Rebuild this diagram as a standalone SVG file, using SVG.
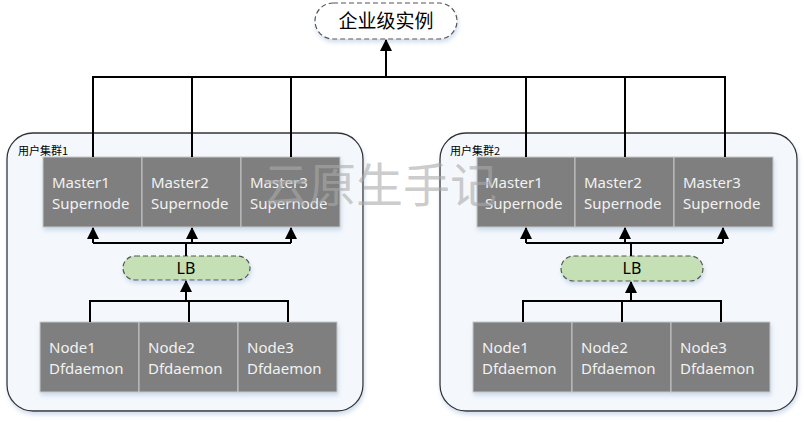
<svg xmlns="http://www.w3.org/2000/svg" width="804" height="422" viewBox="0 0 804 422">
<defs>
<filter id="sh" x="-10%" y="-10%" width="130%" height="140%">
<feDropShadow dx="1" dy="3" stdDeviation="2" flood-color="#9ab4d8" flood-opacity="0.45"/>
</filter>
<marker id="ah" viewBox="0 0 12 12" refX="11" refY="6" markerWidth="12" markerHeight="12" markerUnits="userSpaceOnUse" orient="auto">
<path d="M0,0 L12,6 L0,12 Z" fill="#000"/>
</marker>
</defs>
<style>
.cl{fill:#f4f8fc;stroke:#333;stroke-width:1.3}
.bx{fill:#7f7f7f;stroke:#c8c8c8;stroke-width:1}
.bt{font-family:"Noto Sans","Noto Sans CJK SC",sans-serif;font-size:15px;fill:#f2f2f2}
.lb{fill:#c5e0b4;stroke:#555;stroke-width:1.2;stroke-dasharray:5 3}
.lt{font-family:"Noto Sans","Noto Sans CJK SC",sans-serif;font-size:16px;fill:#000}
.ct{font-family:"Noto Sans CJK SC",sans-serif;font-size:11px;fill:#000}
.ln{fill:none;stroke:#000;stroke-width:2}
</style>
<rect width="804" height="422" fill="#fff"/>

<g id="top">
<rect x="315" y="3" width="142" height="36" rx="18" fill="#fff" stroke="#555" stroke-width="1.2" stroke-dasharray="5 3" filter="url(#sh)"/>
<text x="386" y="28" text-anchor="middle" font-family="Noto Sans CJK SC,sans-serif" font-size="19" fill="#000">企业级实例</text>
</g>

<g id="cluster1">
<rect class="cl" x="7" y="133" width="356" height="278" rx="26" filter="url(#sh)"/>
<text class="ct" x="18" y="155">用户集群1</text>
</g>
<g id="cluster2">
<rect class="cl" x="440" y="133" width="357" height="278" rx="26" filter="url(#sh)"/>
<text class="ct" x="450" y="155">用户集群2</text>
</g>

<g id="c1-masters" filter="url(#sh)">
<rect class="bx" x="43" y="157" width="99" height="70"/>
<rect class="bx" x="142" y="157" width="99" height="70"/>
<rect class="bx" x="241" y="157" width="99" height="70"/>
</g>
<g id="c1-master-text">
<text class="bt" x="52" y="188">Master1</text><text class="bt" x="52" y="209">Supernode</text>
<text class="bt" x="151" y="188">Master2</text><text class="bt" x="151" y="209">Supernode</text>
<text class="bt" x="250" y="188">Master3</text><text class="bt" x="250" y="209">Supernode</text>
</g>
<g id="c1-lb">
<rect class="lb" x="123" y="256" width="127" height="24" rx="12" filter="url(#sh)"/>
<text class="lt" x="186" y="274" text-anchor="middle">LB</text>
</g>
<g id="c1-nodes" filter="url(#sh)">
<rect class="bx" x="40" y="322" width="99" height="70"/>
<rect class="bx" x="139" y="322" width="99" height="70"/>
<rect class="bx" x="238" y="322" width="99" height="70"/>
</g>
<g id="c1-node-text">
<text class="bt" x="49" y="353">Node1</text><text class="bt" x="49" y="374">Dfdaemon</text>
<text class="bt" x="148" y="353">Node2</text><text class="bt" x="148" y="374">Dfdaemon</text>
<text class="bt" x="247" y="353">Node3</text><text class="bt" x="247" y="374">Dfdaemon</text>
</g>

<g id="c2-masters" filter="url(#sh)">
<rect class="bx" x="477" y="157" width="98" height="70"/>
<rect class="bx" x="575" y="157" width="99" height="70"/>
<rect class="bx" x="674" y="157" width="99" height="70"/>
</g>
<g id="c2-master-text">
<text class="bt" x="485" y="188">Master1</text><text class="bt" x="485" y="209">Supernode</text>
<text class="bt" x="584" y="188">Master2</text><text class="bt" x="584" y="209">Supernode</text>
<text class="bt" x="683" y="188">Master3</text><text class="bt" x="683" y="209">Supernode</text>
</g>
<g id="c2-lb">
<rect class="lb" x="561" y="256" width="142" height="25" rx="12.5" filter="url(#sh)"/>
<text class="lt" x="632" y="274" text-anchor="middle">LB</text>
</g>
<g id="c2-nodes" filter="url(#sh)">
<rect class="bx" x="473" y="322" width="99" height="70"/>
<rect class="bx" x="572" y="322" width="99" height="70"/>
<rect class="bx" x="671" y="322" width="99" height="70"/>
</g>
<g id="c2-node-text">
<text class="bt" x="482" y="353">Node1</text><text class="bt" x="482" y="374">Dfdaemon</text>
<text class="bt" x="581" y="353">Node2</text><text class="bt" x="581" y="374">Dfdaemon</text>
<text class="bt" x="680" y="353">Node3</text><text class="bt" x="680" y="374">Dfdaemon</text>
</g>

<g id="connectors">
<path class="ln" d="M93,157 V77 H725 V157 M192,157 V77 M291,157 V77 M526,157 V77 M625,157 V77"/>
<path class="ln" d="M386,77 V40" marker-end="url(#ah)"/>
<path class="ln" d="M186,256 V243 M93,243 H291"/>
<path class="ln" d="M93,243 V228" marker-end="url(#ah)"/>
<path class="ln" d="M192,243 V228" marker-end="url(#ah)"/>
<path class="ln" d="M291,243 V228" marker-end="url(#ah)"/>
<path class="ln" d="M90,322 V301 H288 V322 M189,322 V301"/>
<path class="ln" d="M186,301 V281" marker-end="url(#ah)"/>
<path class="ln" d="M631,256 V243 M526,243 H723"/>
<path class="ln" d="M526,243 V228" marker-end="url(#ah)"/>
<path class="ln" d="M625,243 V228" marker-end="url(#ah)"/>
<path class="ln" d="M723,243 V228" marker-end="url(#ah)"/>
<path class="ln" d="M523,322 V301 H721 V322 M622,322 V301"/>
<path class="ln" d="M631,301 V282" marker-end="url(#ah)"/>
</g>

<text x="262" y="202" font-family="Noto Sans CJK SC,sans-serif" font-size="47" fill="#aaa" fill-opacity="0.6">云原生手记</text>
</svg>
